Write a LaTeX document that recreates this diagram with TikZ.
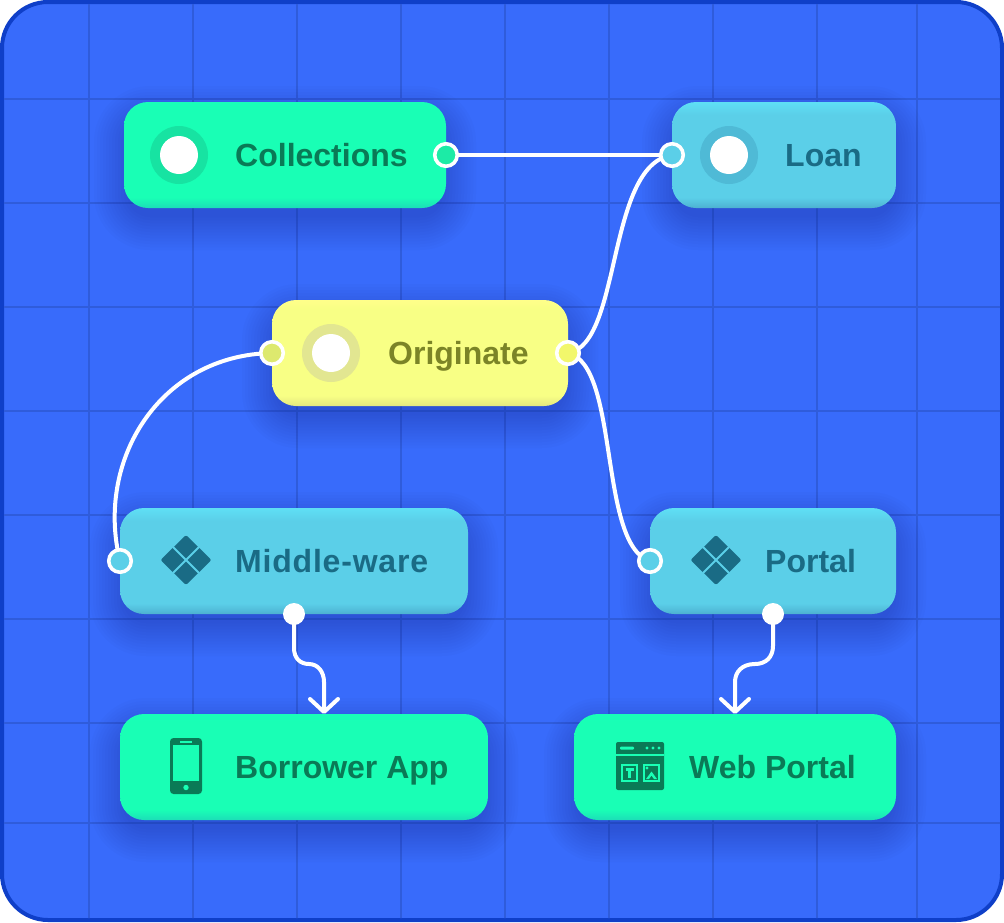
\documentclass[tikz,border=0pt]{standalone}
\usepackage{fontspec}
\setmainfont{Liberation Sans}
\usetikzlibrary{arrows.meta}
\definecolor{bgblue}{HTML}{386BFB}
\definecolor{bgborder}{HTML}{0F3FC8}
\definecolor{gridline}{HTML}{2F5CDB}
\definecolor{shadowc}{HTML}{1A2F9A}
\definecolor{greenbody}{HTML}{19FFB5}
\definecolor{greentext}{HTML}{0A7A56}
\definecolor{greenring}{HTML}{17E3A2}
\definecolor{greenport}{HTML}{1CEBA6}
\definecolor{bluebody}{HTML}{5BCFE8}
\definecolor{bluetext}{HTML}{1A6B85}
\definecolor{bluering}{HTML}{4FBAD6}
\definecolor{yellowbody}{HTML}{F8FF85}
\definecolor{yellowtext}{HTML}{7B8427}
\definecolor{yellowring}{HTML}{E2E691}
\definecolor{yellowportl}{HTML}{DDE96E}
\definecolor{yellowportr}{HTML}{F2F76B}
\pgfdeclareverticalshading{cardgreen}{100bp}{rgb(0bp)=(0.11,0.87,0.72); rgb(25bp)=(0.11,0.87,0.72); rgb(30bp)=(0.098,1,0.71); rgb(71bp)=(0.098,1,0.71); rgb(75bp)=(0.10,1,0.72); rgb(100bp)=(0.10,1,0.72)}
\pgfdeclareverticalshading{cardblue}{100bp}{rgb(0bp)=(0.30,0.69,0.82); rgb(25bp)=(0.30,0.69,0.82); rgb(30bp)=(0.357,0.812,0.91); rgb(69bp)=(0.357,0.812,0.91); rgb(75bp)=(0.37,0.875,0.96); rgb(100bp)=(0.37,0.875,0.96)}
\pgfdeclareverticalshading{cardyellow}{100bp}{rgb(0bp)=(0.89,0.91,0.50); rgb(25bp)=(0.89,0.91,0.50); rgb(30bp)=(0.973,1,0.522); rgb(71bp)=(0.973,1,0.522); rgb(75bp)=(1,1,0.54); rgb(100bp)=(1,1,0.54)}
\pgfdeclarelayer{back}
\pgfdeclarelayer{wires}
\pgfsetlayers{back,wires,main}
\tikzset{
  cardbox/.style={rectangle,rounded corners=24pt,inner sep=0pt,shade,draw=none},
  cardlabel/.style={anchor=base west,inner sep=0pt,font=\fontsize{32}{33}\selectfont\bfseries},
  port/.style={circle,draw=white,line width=3.6pt,minimum size=22.5pt,inner sep=0pt},
  solidport/.style={circle,fill=white,minimum size=22pt,inner sep=0pt},
  wire/.style={draw=white,line width=4pt,line cap=round},
  arrowwire/.style={wire,-{Straight Barb[round,length=13pt,width=28pt,line width=4pt]}},
  ringicon/.style={circle,minimum size=58pt,inner sep=0pt,draw=none},
  ringdot/.style={circle,fill=white,minimum size=38pt,inner sep=0pt},
  gridstroke/.style={draw=gridline,line width=2pt}
}
% #1 name, #2 x1, #3 y1, #4 x2, #5 y2, #6 shading
\newcommand{\cardat}[6]{%
  \pgfmathsetmacro{\cw}{#4-#2}\pgfmathsetmacro{\ch}{#5-#3}%
  \pgfmathsetmacro{\ccx}{(#2+#4)/2}\pgfmathsetmacro{\ccy}{(#3+#5)/2}%
  \foreach \k in {3,6,...,36}{%
    \pgfmathsetmacro{\rr}{20+\k}%
    \fill[shadowc,opacity=0.03,rounded corners=\rr pt]
      ({#2+6-\k},{#3+20-\k}) rectangle ({#4-6+\k},{#5+6+\k});
  }%
  \node[cardbox,shading=#6,minimum width=\cw pt,minimum height=\ch pt] (#1) at (\ccx,\ccy) {};
}
% diamond icon: #1 cx, #2 cy
\newcommand{\diamondicon}[2]{%
  \fill[bluetext,rounded corners=2pt] (#1,#2-25) -- (#1+25.5,#2) -- (#1,#2+25) -- (#1-25.5,#2) -- cycle;
  \draw[bluebody,line width=2pt] (#1-13,#2-13) -- (#1+13,#2+13) (#1+13,#2-13) -- (#1-13,#2+13);
}
\begin{document}
\begin{tikzpicture}[x=1pt,y=-1pt]
\useasboundingbox (0,0) rectangle (1004,922);
\begin{pgfonlayer}{back}
  \path[fill=bgblue,draw=bgborder,line width=4pt,rounded corners=46pt] (2,2) rectangle (1002,920);
  \begin{scope}
    \clip[rounded corners=44pt] (4,4) rectangle (1000,918);
    \foreach \gx in {89,193,297,401,505,609,713,817,917} \draw[gridstroke] (\gx,0) -- (\gx,922);
    \foreach \gy in {99,203,307,411,515,619,723,823} \draw[gridstroke] (0,\gy) -- (1004,\gy);
  \end{scope}
  \cardat{collections}{124}{102}{446}{208}{cardgreen}
  \cardat{loan}{672}{102}{896}{208}{cardblue}
  \cardat{originate}{272}{300}{568}{406}{cardyellow}
  \cardat{middleware}{120}{508}{468}{614}{cardblue}
  \cardat{portal}{650}{508}{896}{614}{cardblue}
  \cardat{borrower}{120}{714}{488}{820}{cardgreen}
  \cardat{webportal}{574}{714}{896}{820}{cardgreen}
\end{pgfonlayer}

% ring icons
\node[ringicon,fill=greenring] (ringc) at (179,155) {};
\node[ringdot] (dotc) at (ringc) {};
\node[ringicon,fill=bluering] (ringl) at (729,155) {};
\node[ringdot] (dotl) at (ringl) {};
\node[ringicon,fill=yellowring] (ringo) at (331,353) {};
\node[ringdot] (doto) at (ringo) {};

% diamond icons
\diamondicon{186}{560}
\diamondicon{716}{560}

% phone icon
\fill[greentext,rounded corners=3.5pt] (170,738) rectangle (202,794);
\fill[greenbody] (173,745) rectangle (199,781);
\fill[greenbody] (180,741) rectangle (192,743);
\fill[greenbody] (186,787.5) circle (2.7pt);

% browser icon
\fill[greentext,rounded corners=2pt] (616,742) rectangle (664,790);
\fill[greenbody] (616,754) rectangle (664,756);
\fill[greenbody,rounded corners=1pt] (620,746.5) rectangle (634,749.5);
\foreach \dx in {647,653,659} \fill[greenbody] (\dx,748) circle (1.6pt);
\draw[greenbody,line width=2.2pt] (622,765) rectangle (637,781);
\draw[greenbody,line width=2.2pt] (644,765) rectangle (659,781);
\draw[greenbody,line width=2.2pt] (625.5,769.5) -- (633.5,769.5) (629.5,769.5) -- (629.5,777.5);
\fill[greenbody] (647,768) circle (1.6pt);
\fill[greenbody] (646,779) -- (651.5,771.5) -- (657,779) -- (654,779) -- (651.5,775.5) -- (649,779) -- cycle;

% labels
\node[cardlabel,text=greentext] (tc) at (235,166) {Collections};
\node[cardlabel,text=bluetext] (tl) at (785,166) {Loan};
\node[cardlabel,text=yellowtext] (to) at (388,364) {Originate};
\node[cardlabel,text=bluetext] (tm) at (235,572) {\addfontfeature{LetterSpace=2.5}Middle-ware};
\node[cardlabel,text=bluetext] (tp) at (765,572) {Portal};
\node[cardlabel,text=greentext] (tb) at (235,778) {Borrower App};
\node[cardlabel,text=greentext] (tw) at (689,778) {Web Portal};

% ports
\node[port,fill=greenport] (pc) at (446,155) {};
\node[port,fill=bluebody] (pl) at (672,155) {};
\node[port,fill=yellowportl] (pol) at (272,353) {};
\node[port,fill=yellowportr] (por) at (568,353) {};
\node[port,fill=bluebody] (pm) at (120,561) {};
\node[port,fill=bluebody] (pp) at (650,561) {};
\node[solidport] (sm) at (294,614) {};
\node[solidport] (sp) at (773,614) {};
\coordinate (inb) at (324,714);
\coordinate (inw) at (735,714);

\begin{pgfonlayer}{wires}
  \draw[wire] (pc.center) -- (pl.center);
  \draw[wire] (por.center) .. controls (622,345) and (606,165) .. (pl.center);
  \draw[wire] (por.center) .. controls (620,365) and (598,545) .. (pp.center);
  \draw[wire] (pol.center) .. controls (160,355) and (95,460) .. (pm.center);
  \draw[arrowwire] (sm.center) -- (294,648) .. controls (294,658) and (300,664) .. (309,664)
     .. controls (318,664) and (324,672) .. (324,682) -- (inb);
  \draw[arrowwire] (sp.center) -- (773,646) .. controls (773,657) and (766,664) .. (755,664)
     .. controls (742,664) and (735,672) .. (735,682) -- (inw);
\end{pgfonlayer}
\end{tikzpicture}
\end{document}
